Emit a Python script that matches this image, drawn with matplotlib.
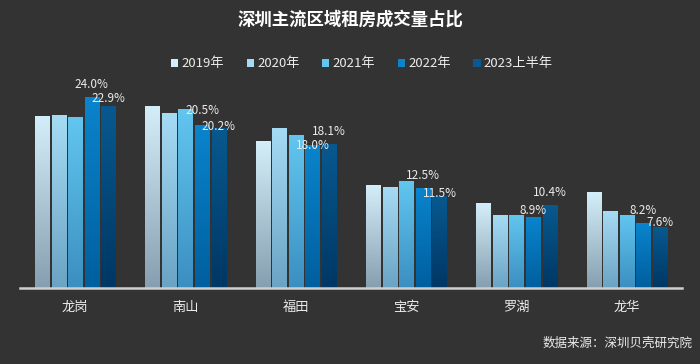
import numpy as np
import matplotlib
matplotlib.use("Agg")
import matplotlib.pyplot as plt
from matplotlib.colors import LinearSegmentedColormap
from matplotlib.patches import Patch

plt.rcParams['font.family'] = ['Noto Sans CJK SC', 'DejaVu Sans']

# data
districts = ["龙岗", "南山", "福田", "宝安", "罗湖", "龙华"]
series_names = ["2019年", "2020年", "2021年", "2022年", "2023上半年"]
v2019 = [21.7, 22.9, 18.5, 13.0, 10.7, 12.0]
v2020 = [21.8, 22.0, 20.1, 12.7, 9.2, 9.7]
v2021 = [21.5, 22.5, 19.2, 13.4, 9.1, 9.2]
v2022 = [24.0, 20.5, 18.0, 12.5, 8.9, 8.2]
v2023h1 = [22.9, 20.2, 18.1, 11.5, 10.4, 7.6]
values = [v2019, v2020, v2021, v2022, v2023h1]

# gradient colours (top, bottom) per series
top_colors = ["#d4eef9", "#a6dbf4", "#62c6ef", "#0a84cc", "#08598f"]
bottom_colors = ["#869fb0", "#6aa3c4", "#3b8fc0", "#005f9e", "#003764"]
bg = "#333333"
txt = "#ececec"

fig = plt.figure(figsize=(7, 3.64), dpi=100, facecolor=bg)
ax = fig.add_axes([20 / 700, 76 / 364, 662 / 700, 208 / 364])
ax.set_facecolor(bg)

x = np.arange(len(districts))
step = 0.151
width = 0.127
grad = np.linspace(0, 1, 256).reshape(-1, 1)

for i, vals in enumerate(values):
    pos = x + (i - 2) * step
    cmap = LinearSegmentedColormap.from_list("g%d" % i, [bottom_colors[i], top_colors[i]])
    bars = ax.bar(pos, vals, width=width, color="none", edgecolor="none")
    for b in bars:
        x0 = b.get_x()
        h = b.get_height()
        ax.imshow(grad, extent=[x0, x0 + width, 0, h], origin="lower",
                  cmap=cmap, aspect="auto", zorder=2, interpolation="bicubic")

# value labels for 2022 and 2023H1 (vertical offsets in px as in the original)
off_2022 = [13, 15, 0, 13, 7, 13]
off_2023 = [8, 2, 13, 3, 13, 5]
for i, (vals, offs) in enumerate([(v2022, off_2022), (v2023h1, off_2023)]):
    pos = x + (i + 1) * step
    for p, v, o in zip(pos, vals, offs):
        ax.annotate(f"{v:.1f}%", (p, v), xytext=(0, o * 0.72), textcoords="offset points",
                    ha="center", va="center", color=txt, fontsize=8.5, zorder=5)

ax.set_xlim(-0.5, 5.5)
ax.set_ylim(0, 26.26)
ax.set_yticks([])
ax.set_xticks(x)
ax.set_xticklabels(districts, color=txt, fontsize=9.5)
ax.tick_params(axis="x", length=0, pad=9)
for s in ["top", "right", "left"]:
    ax.spines[s].set_visible(False)
ax.spines["bottom"].set_color("#cfcfcf")
ax.spines["bottom"].set_linewidth(1.8)
ax.spines["bottom"].set_zorder(6)

fig.text(0.5, 1 - 20 / 364, "深圳主流区域租房成交量占比", ha="center", va="center",
         color="white", fontsize=12.5, fontweight="bold")

handles = [Patch(facecolor=top_colors[i], edgecolor="none") for i in range(5)]
fig.legend(handles, series_names, loc="center", bbox_to_anchor=(362 / 700, 1 - 64 / 364),
           ncol=5, frameon=False, fontsize=9.5, labelcolor=txt,
           handlelength=0.55, handleheight=0.55, handletextpad=0.25, columnspacing=1.7)

fig.text(693 / 700, 1 - 343 / 364, "数据来源：深圳贝壳研究院", ha="right", va="center",
         color=txt, fontsize=9)

fig.savefig("out.png", dpi=100, facecolor=bg)
